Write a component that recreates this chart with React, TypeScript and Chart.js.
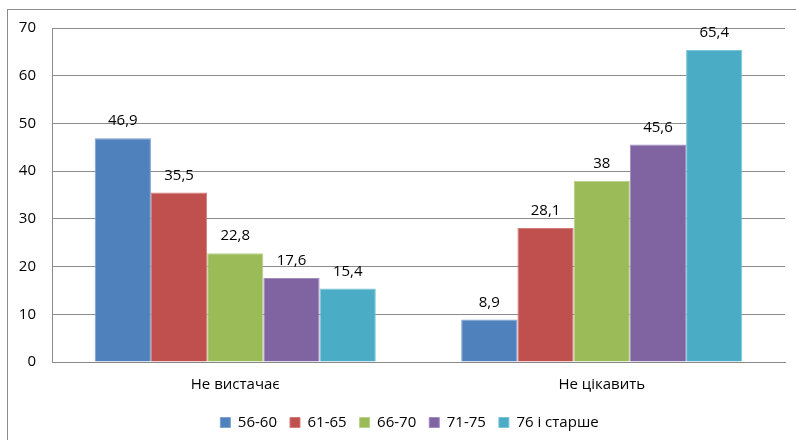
import React, { useEffect, useRef } from "react";
import { Chart, registerables } from "chart.js";

Chart.register(...registerables);

const categories = ["Не вистачає", "Не цікавить"];
const seriesNames = ["56-60", "61-65", "66-70", "71-75", "76 і старше"];
const s1 = [46.9, 8.9];
const s2 = [35.5, 28.1];
const s3 = [22.8, 38];
const s4 = [17.6, 45.6];
const s5 = [15.4, 65.4];
const colors = ["#4F81BD", "#C0504D", "#9BBB59", "#8064A2", "#4BACC6"];
const borders = ["#7DA0CF", "#D27B79", "#B8D088", "#A08BBE", "#7CC3D6"];

const FONT = "'Open Sans', sans-serif";

const labelPlugin = {
  id: "valueLabels",
  afterDatasetsDraw(chart: any) {
    const ctx = chart.ctx;
    ctx.save();
    ctx.font = `15px ${FONT}`;
    ctx.fillStyle = "#000";
    ctx.textAlign = "center";
    ctx.textBaseline = "middle";
    chart.data.datasets.forEach((ds: any, i: number) => {
      const meta = chart.getDatasetMeta(i);
      meta.data.forEach((bar: any, j: number) => {
        const v = ds.data[j];
        ctx.fillText(String(v).replace(".", ","), bar.x, bar.y - 17);
      });
    });
    // y tick labels
    const ys = chart.scales.y;
    ctx.textAlign = "right";
    ys.ticks.forEach((t: any) => {
      ctx.fillText(String(t.value), ys.right - 16, ys.getPixelForValue(t.value));
    });
    ctx.restore();
  },
};

export default function App() {
  const ref = useRef<HTMLCanvasElement>(null);
  useEffect(() => {
    const data = [s1, s2, s3, s4, s5];
    const chart = new Chart(ref.current as HTMLCanvasElement, {
      type: "bar",
      data: {
        labels: categories,
        datasets: seriesNames.map((n, i) => ({
          label: n,
          data: data[i],
          backgroundColor: colors[i],
          borderColor: borders[i],
          borderWidth: 1,
          categoryPercentage: 0.767,
          barPercentage: 1,
        })),
      },
      options: {
        animation: false,
        responsive: false,
        layout: { padding: { top: 28, right: 11, left: 34, bottom: 0 } },
        plugins: {
          tooltip: { enabled: false },
          legend: {
            position: "bottom",
            labels: {
              boxWidth: 10,
              boxHeight: 10,
              padding: 13,
              color: "#000",
              font: { family: FONT, size: 15 },
            },
          },
        },
        scales: {
          x: {
            grid: { display: false, drawTicks: false },
            border: { color: "#888" },
            ticks: { color: "#000", padding: 14, font: { family: FONT, size: 15 } },
            afterFit(scale: any) {
              scale.height = 40;
            },
          },
          y: {
            min: 0,
            max: 70,
            ticks: { stepSize: 10, display: false },
            grid: { color: "#8C8C8C", drawTicks: false },
            border: { color: "#8C8C8C" },
            afterFit(scale: any) {
              scale.width = 18;
            },
          },
        },
      },
      plugins: [labelPlugin],
    } as any);
    return () => chart.destroy();
  }, []);
  return (
    <div style={{ position: "absolute", left: 0, top: 0, width: 796, height: 440, overflow: "hidden", background: "#fff" }}>
      <div
        style={{
          position: "absolute",
          left: 7,
          top: 9,
          width: 900,
          height: 500,
          border: "1px solid #8C8C8C",
        }}
      />
      <canvas ref={ref} width={796} height={440} style={{ position: "absolute", left: 0, top: 0 }} />
    </div>
  );
}
